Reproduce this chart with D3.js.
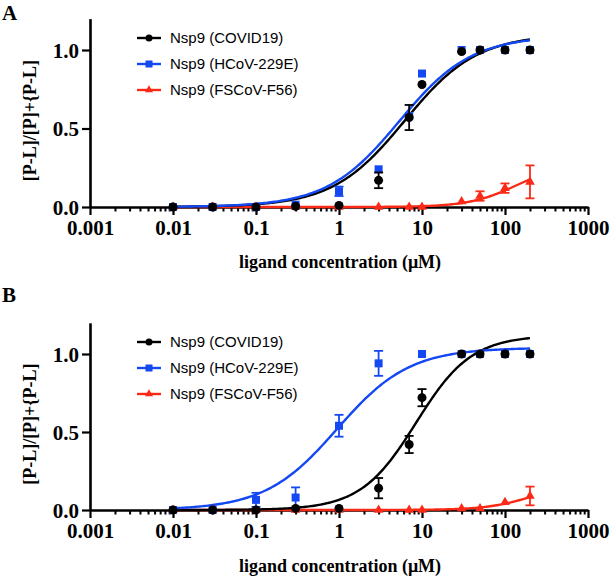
<!DOCTYPE html>
<html><head><meta charset="utf-8">
<script src="https://cdn.jsdelivr.net/npm/d3@7"></script>
<style>
body{margin:0;background:#fff;}
svg{display:block;}
</style></head>
<body>
<svg id="chart" width="611" height="579"></svg>
<script>
// ---- data ----
const concentrations = [0.01, 0.03, 0.1, 0.3, 1, 3, 7, 10, 30, 50, 100, 200];
const seriesNames = ["Nsp9 (COVID19)", "Nsp9 (HCoV-229E)", "Nsp9 (FSCoV-F56)"];
const seriesColors = ["#000000", "#1448f2", "#fb2a16"];
const seriesShapes = ["circle", "square", "triangle"];

// Panel A values
const aCovid    = [0, 0, 0, 0.005, 0.01, 0.17, 0.57, 0.78, 0.99, 1.0, 1.0, 1.0];
const aCovidErr = [0, 0, 0, 0, 0, 0.05, 0.08, 0, 0, 0, 0, 0];
const aHcov     = [0, 0, 0, 0.015, 0.10, 0.24, 0.58, 0.85, 1.0, 1.0, 1.0, 1.0];
const aHcovErr  = [0, 0, 0, 0, 0.03, 0, 0, 0, 0, 0, 0, 0];
const aFscov    = [0, 0, 0, 0, 0, 0, 0, 0, 0.035, 0.07, 0.12, 0.16];
const aFscovErr = [0, 0, 0, 0, 0, 0, 0, 0, 0, 0.03, 0.03, 0.105];

// Panel B values
const bCovid    = [0, 0, 0, 0.01, 0.01, 0.14, 0.42, 0.72, 1.0, 1.0, 1.0, 1.0];
const bCovidErr = [0, 0, 0, 0, 0, 0.065, 0.055, 0.055, 0, 0, 0, 0];
const bHcov     = [0, 0, 0.065, 0.08, 0.54, 0.94, null, 1.0, 1.0, 1.0, 1.0, 1.0];
const bHcovErr  = [0, 0, 0.045, 0.065, 0.07, 0.08, 0, 0, 0, 0, 0, 0];
const bFscov    = [0, 0, 0, 0, 0, 0, 0, 0, 0.01, 0.01, 0.05, 0.09];
const bFscovErr = [0, 0, 0, 0, 0, 0, 0, 0, 0, 0, 0, 0.06];

// Hill fit parameters [top, EC50, hill]
const aFits = [[1.10, 6.2, 1.0], [1.09, 5.3, 1.0], [0.28, 140, 1.5]];
const bFits = [[1.12, 8.5, 1.3], [1.04, 0.95, 1.0], [0.20, 250, 1.5]];

const xTicks = [0.001, 0.01, 0.1, 1, 10, 100, 1000];
const xTickLabels = ["0.001", "0.01", "0.1", "1", "10", "100", "1000"];
const yTicks = [0, 0.5, 1.0];
const yTickLabels = ["0.0", "0.5", "1.0"];
const panelLabels = ["A", "B"];
const xTitle = "ligand concentration (\u03bcM)";
const yTitle = "[P-L]/[P]+{P-L]";

// ---- drawing ----
const svg = d3.select("#chart");
const serif = "'Liberation Serif','Times New Roman',serif";
const sans = "'Liberation Sans',Arial,Helvetica,sans-serif";

function hill(p, x){ const [top, ec, n] = p; return top * Math.pow(x, n) / (Math.pow(ec, n) + Math.pow(x, n)); }

function marker(sel, shape, color){
  if (shape === "circle") sel.append("circle").attr("r", 4.5).attr("fill", color);
  else if (shape === "square") sel.append("rect").attr("x", -4).attr("y", -4).attr("width", 8).attr("height", 8).attr("fill", color);
  else sel.append("path").attr("d", d3.symbol(d3.symbolTriangle, 40)()).attr("fill", color);
}

function drawPanel(cfg){
  const g = svg.append("g");
  const x = d3.scaleLog().domain([0.001, 1000]).range([90, 588]);
  const y = d3.scaleLinear().domain([0, 1.2]).range([cfg.y0, cfg.y0 - 1.2 * cfg.unit]);

  // panel label
  g.append("text").attr("x", 2).attr("y", cfg.labelY).text(cfg.label)
    .attr("font-family", serif).attr("font-weight", "bold").attr("font-size", 21);

  // minor x ticks
  const minors = [];
  for (let e = -3; e < 3; e++) for (let m = 2; m <= 9; m++) minors.push(m * Math.pow(10, e));
  g.append("g").attr("transform", `translate(0,${cfg.y0})`)
    .call(d3.axisBottom(x).tickValues(minors).tickSize(4.5).tickFormat(""))
    .call(s => { s.select(".domain").remove(); s.selectAll("line").attr("stroke-width", 2).attr("stroke", "#000"); });

  // major x axis
  const xa = g.append("g").attr("transform", `translate(0,${cfg.y0})`)
    .call(d3.axisBottom(x).tickValues(xTicks).tickSize(8).tickSizeOuter(0).tickPadding(5)
      .tickFormat((d, i) => xTickLabels[i]));
  xa.select(".domain").attr("stroke-width", 2.6).attr("stroke", "#000");
  xa.selectAll("line").attr("stroke-width", 2.2);
  xa.selectAll("text").attr("font-family", serif).attr("font-weight", "bold").attr("font-size", 21).attr("fill", "#000");

  // y axis
  const ya = g.append("g").attr("transform", `translate(90,0)`)
    .call(d3.axisLeft(y).tickValues(yTicks).tickSize(8).tickSizeOuter(0).tickPadding(3)
      .tickFormat((d, i) => yTickLabels[i]));
  ya.select(".domain").attr("stroke-width", 2.6).attr("stroke", "#000");
  ya.selectAll("line").attr("stroke-width", 2.2);
  ya.selectAll("text").attr("font-family", serif).attr("font-weight", "bold").attr("font-size", 21).attr("fill", "#000").attr("dy", "0.35em");

  // axis titles
  g.append("text").attr("x", 340).attr("y", cfg.xTitleY).attr("text-anchor", "middle")
    .attr("font-family", serif).attr("font-weight", "bold").attr("font-size", 18).text(xTitle);
  g.append("text").attr("transform", `translate(36,${y(0.55)}) rotate(-90)`).attr("text-anchor", "middle")
    .attr("font-family", serif).attr("font-weight", "bold").attr("font-size", 18).text(yTitle);

  // curves (draw order: red, black, blue so that blue lies over black, matches ref)
  const order = [2, 0, 1];
  const xs = d3.range(-2, Math.log10(200) + 0.0001, 0.02).map(v => Math.pow(10, v));
  xs.push(200);
  const line = d3.line().x(d => x(d[0])).y(d => y(d[1])).curve(d3.curveLinear);
  order.forEach(i => {
    g.append("path").datum(xs.map(v => [v, hill(cfg.fits[i], v)]))
      .attr("d", line).attr("fill", "none").attr("stroke", seriesColors[i]).attr("stroke-width", 2.4);
  });

  // points + error bars
  [2, 1, 0].forEach(i => {
    const vals = cfg.values[i], errs = cfg.errors[i];
    concentrations.forEach((c, k) => {
      const v = vals[k];
      if (v === null) return;
      if (errs[k] > 0) {
        const e = errs[k];
        g.append("line").attr("x1", x(c)).attr("x2", x(c)).attr("y1", y(v - e)).attr("y2", y(v + e))
          .attr("stroke", seriesColors[i]).attr("stroke-width", 1.8);
        [v - e, v + e].forEach(t => g.append("line").attr("x1", x(c) - 4.5).attr("x2", x(c) + 4.5)
          .attr("y1", y(t)).attr("y2", y(t)).attr("stroke", seriesColors[i]).attr("stroke-width", 1.8));
      }
      const m = g.append("g").attr("transform", `translate(${x(c)},${y(v)})`);
      marker(m, seriesShapes[i], seriesColors[i]);
    });
  });

  // legend
  seriesNames.forEach((name, i) => {
    const ly = cfg.legendY + i * 26;
    g.append("line").attr("x1", 137).attr("x2", 161).attr("y1", ly).attr("y2", ly)
      .attr("stroke", seriesColors[i]).attr("stroke-width", 2.4);
    const m = g.append("g").attr("transform", `translate(149,${ly})`);
    if (seriesShapes[i] === "circle") m.append("circle").attr("r", 3.5).attr("fill", seriesColors[i]);
    else if (seriesShapes[i] === "square") m.append("rect").attr("x", -3.5).attr("y", -3.5).attr("width", 7).attr("height", 7).attr("fill", seriesColors[i]);
    else m.append("path").attr("d", d3.symbol(d3.symbolTriangle, 28)()).attr("fill", seriesColors[i]);
    g.append("text").attr("x", 170).attr("y", ly).attr("dy", "0.35em")
      .attr("font-family", sans).attr("font-size", 15).text(name);
  });
}

drawPanel({label: panelLabels[0], labelY: 20, y0: 207, unit: 157, xTitleY: 268, legendY: 38,
  values: [aCovid, aHcov, aFscov], errors: [aCovidErr, aHcovErr, aFscovErr], fits: aFits});
drawPanel({label: panelLabels[1], labelY: 302, y0: 510, unit: 156, xTitleY: 572, legendY: 342,
  values: [bCovid, bHcov, bFscov], errors: [bCovidErr, bHcovErr, bFscovErr], fits: bFits});
</script>
</body></html>
